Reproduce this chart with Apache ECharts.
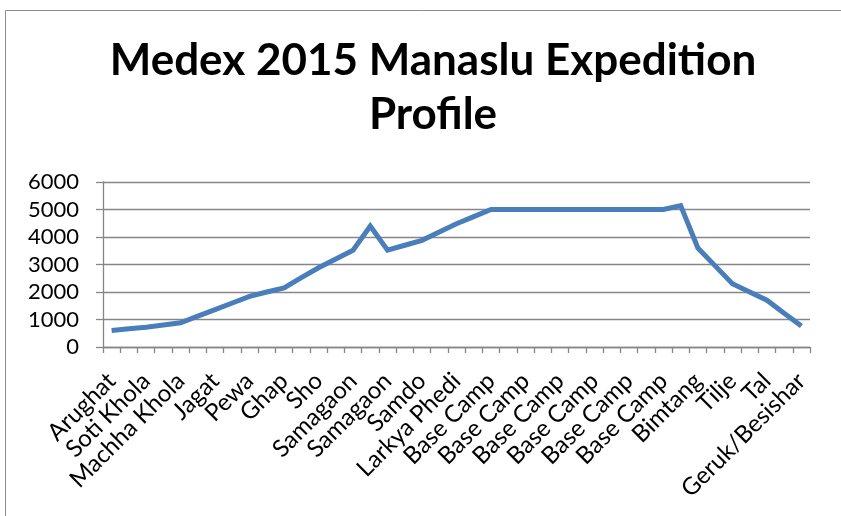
<!DOCTYPE html>
<html>
<head>
<meta charset="utf-8">
<title>Medex 2015 Manaslu Expedition Profile</title>
<script src="https://cdn.jsdelivr.net/npm/echarts@6/dist/echarts.min.js"></script>
<style>
  html, body { margin: 0; padding: 0; background: #fff; }
  #chart { width: 841px; height: 516px; }
</style>
</head>
<body>
<div id="chart"></div>
<script>
// stops along the trek (Excel only labels every other one)
const stops = [
  'Arughat', '', 'Soti Khola', '', 'Machha Khola', '', 'Jagat', '', 'Pewa', '',
  'Ghap', '', 'Sho', '', 'Samagaon', '', 'Samagaon', '', 'Samdo', '',
  'Larkya Phedi', '', 'Base Camp', '', 'Base Camp', '', 'Base Camp', '', 'Base Camp', '',
  'Base Camp', '', 'Base Camp', '', 'Bimtang', '', 'Tilje', '', 'Tal', '',
  'Geruk/Besishar'
];

// altitude in metres
const altitude = [
  600, 660, 720, 800, 880, 1120, 1360, 1600, 1840, 2000,
  2150, 2520, 2880, 3200, 3520, 4400, 3520, 3700, 3880, 4180,
  4480, 4740, 5000, 5000, 5000, 5000, 5000, 5000, 5000, 5000,
  5000, 5000, 5000, 5140, 3600, 2950, 2300, 2000, 1700, 1230,
  760
];

const yTicks = [0, 1000, 2000, 3000, 4000, 5000, 6000];

const chart = echarts.init(document.getElementById('chart'));

const option = {
  animation: false,
  title: {
    text: 'Medex 2015 Manaslu Expedition\nProfile',
    left: 428,
    textAlign: 'center',
    top: 29,
    textStyle: {
      fontFamily: 'Lato',
      fontWeight: 'bold',
      fontSize: 44,
      lineHeight: 54,
      color: '#000'
    }
  },
  graphic: [
    {
      type: 'rect',
      shape: { x: 5.5, y: 10.5, width: 900, height: 600 },
      style: { fill: 'none', stroke: '#8c8c8c', lineWidth: 1 },
      silent: true
    }
  ],
  grid: {
    left: 103,
    right: 31,
    top: 182,
    bottom: 169
  },
  xAxis: {
    type: 'category',
    data: stops,
    boundaryGap: true,
    axisLine: { lineStyle: { color: '#868686', width: 1.3 } },
    axisTick: { show: true, interval: 0, length: 6, lineStyle: { color: '#868686', width: 1.3 } },
    axisLabel: {
      interval: 1,
      rotate: 45,
      margin: 30,
      color: '#000',
      fontFamily: 'Lato',
      fontSize: 24
    },
    splitLine: { show: false }
  },
  yAxis: {
    type: 'value',
    min: yTicks[0],
    max: yTicks[yTicks.length - 1],
    interval: 1000,
    axisLine: { show: true, lineStyle: { color: '#868686', width: 1.3 } },
    axisTick: { show: true, length: 7, lineStyle: { color: '#868686', width: 1.3 } },
    axisLabel: {
      margin: 24,
      color: '#000',
      fontFamily: 'Lato',
      fontSize: 22,
      formatter: function (v) { return String(v); }
    },
    splitLine: { show: true, lineStyle: { color: '#868686', width: 1.3 } }
  },
  series: [
    {
      name: 'Altitude',
      type: 'line',
      data: altitude,
      showSymbol: false,
      symbol: 'none',
      lineStyle: { color: '#4a7ebb', width: 5, join: 'miter' }
    }
  ]
};

chart.setOption(option);
</script>
</body>
</html>
